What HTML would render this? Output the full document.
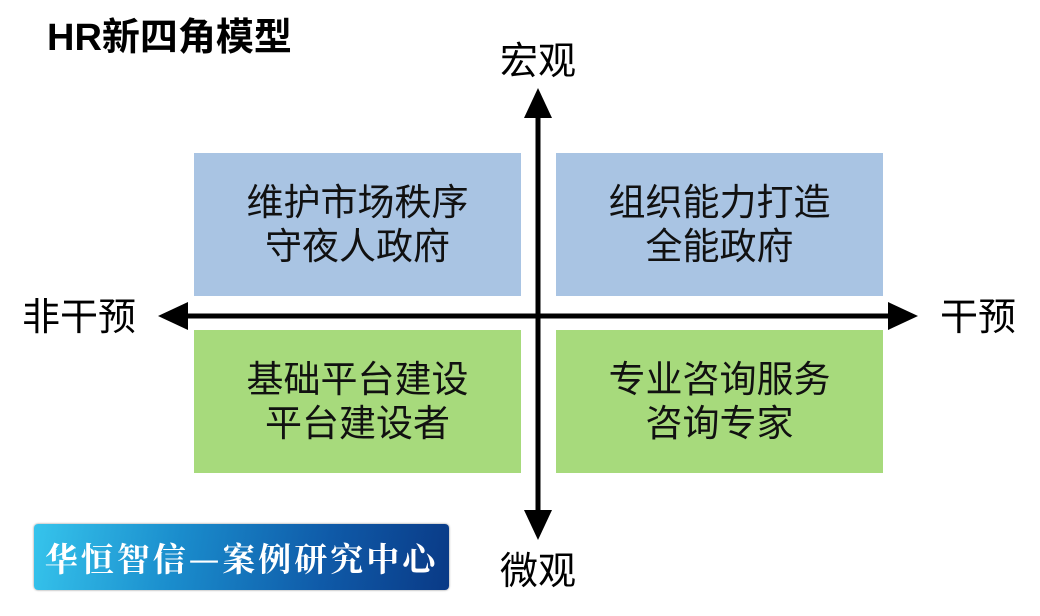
<!DOCTYPE html>
<html><head><meta charset="utf-8"><style>
body{margin:0;width:1040px;height:616px;background:#fff;position:relative;overflow:hidden;font-family:"Liberation Sans","Noto Sans CJK SC",sans-serif;}
.a{position:absolute;}
.box{position:absolute;width:327px;height:143px;display:flex;align-items:center;justify-content:center;text-align:center;font-size:37px;line-height:44px;color:#111;}
.b{background:#a9c4e3;}.g{background:#a7da7c;}
.lab{position:absolute;font-size:38px;color:#000;line-height:42px;}
</style></head><body>
<div class="a" style="left:47px;top:16px;font-size:38px;font-weight:bold;line-height:44px;">HR新四角模型</div>
<div class="box b" style="left:194px;top:153px;">维护市场秩序<br>守夜人政府</div>
<div class="box b" style="left:556px;top:153px;">组织能力打造<br>全能政府</div>
<div class="box g" style="left:194px;top:330px;">基础平台建设<br>平台建设者</div>
<div class="box g" style="left:556px;top:330px;">专业咨询服务<br>咨询专家</div>
<svg class="a" style="left:0;top:0" width="1040" height="616">
<line x1="538" y1="112" x2="538" y2="514" stroke="#000" stroke-width="5"/>
<polygon points="538,88 524,118 552,118" fill="#000"/>
<polygon points="538,540 524,510 552,510" fill="#000"/>
<line x1="180" y1="316" x2="896" y2="316" stroke="#000" stroke-width="5"/>
<polygon points="158,316 188,302 188,330" fill="#000"/>
<polygon points="918,316 888,302 888,330" fill="#000"/>
</svg>
<div class="lab" style="left:500px;top:41px;">宏观</div>
<div class="lab" style="left:500px;top:551px;">微观</div>
<div class="lab" style="left:22px;top:297px;">非干预</div>
<div class="lab" style="left:940px;top:297px;">干预</div>
<div class="a" style="left:34px;top:524px;width:415px;height:66px;border-radius:4px;background:linear-gradient(100deg,#36c4ec 0%,#1a8ccc 35%,#0f5aa8 70%,#0a3a86 100%);box-shadow:0 0 2px #888;display:flex;align-items:center;justify-content:center;color:#fff;font-family:'Noto Serif CJK SC',serif;font-weight:bold;font-size:33px;letter-spacing:3px;">华恒智信—案例研究中心</div>
</body></html>
